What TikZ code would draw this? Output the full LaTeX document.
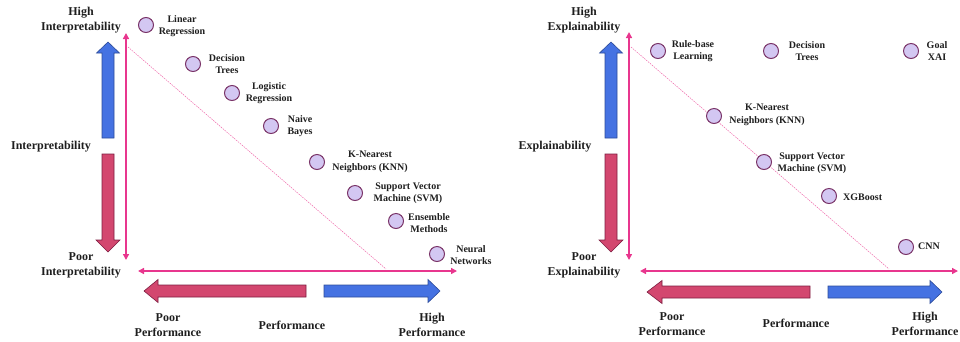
\documentclass[tikz,border=0pt]{standalone}
\usepackage{fontspec}
\setmainfont{Liberation Serif}
\usetikzlibrary{arrows.meta}

\definecolor{axispink}{HTML}{E8368E}
\definecolor{upblue}{HTML}{4572E2}
\definecolor{upblueedge}{HTML}{2D4C9A}
\definecolor{downred}{HTML}{D3476F}
\definecolor{downrededge}{HTML}{7C1D40}
\definecolor{dotfill}{HTML}{D3C7F2}
\definecolor{dotedge}{HTML}{7A3468}
\definecolor{ink}{HTML}{1E1E1E}

\tikzset{
  axis/.style={draw=axispink, line width=1.4pt,
    {Triangle[length=6pt,width=6pt]}-{Triangle[length=6pt,width=6pt]}},
  guide/.style={draw=axispink!75, line width=0.5pt, dash pattern=on 1.5pt off 1pt},
  goodway/.style={fill=upblue, draw=upblueedge, line width=0.6pt},
  badway/.style={fill=downred, draw=downrededge, line width=0.6pt},
  model/.style={circle, draw=dotedge, fill=dotfill, line width=1pt,
    minimum size=15pt, inner sep=0pt},
  tag/.style={font=\bfseries\fontsize{10}{12.5}\selectfont, align=center,
    inner sep=0pt, text=ink},
  axlabel/.style={font=\bfseries\fontsize{12}{15}\selectfont, align=center,
    inner sep=0pt, text=ink}
}

\begin{document}
\begin{tikzpicture}[x=1pt, y=-1pt]
\useasboundingbox (0,0) rectangle (960,341);

% ---------------- Interpretability vs. performance ----------------
\coordinate (ia-top) at (126,33);
\coordinate (ia-bot) at (126,260);
\coordinate (pa-left) at (138,271);
\coordinate (pa-right) at (457,271);
\coordinate (ig-start) at (128,47);
\coordinate (ig-end) at (386,269);

\draw[guide] (ig-start) -- (ig-end);
\draw[axis] (ia-bot) -- (ia-top);
\draw[axis] (pa-left) -- (pa-right);

% block arrows
\draw[goodway] (102,138) -- (102,53) -- (96.5,53) -- (108,42) -- (119.5,53) -- (114,53) -- (114,138) -- cycle;
\draw[badway] (102,154) -- (114,154) -- (114,240) -- (120,240) -- (108,252) -- (96,240) -- (102,240) -- cycle;
\draw[badway] (306,285) -- (158,285) -- (158,279.5) -- (144,291) -- (158,302.5) -- (158,297) -- (306,297) -- cycle;
\draw[goodway] (324,285) -- (428,285) -- (428,279.5) -- (440,291) -- (428,302.5) -- (428,297) -- (324,297) -- cycle;

\node[axlabel] (i-high) at (81,20) {High\\Interpretability};
\node[axlabel] (i-mid) at (51,147) {Interpretability};
\node[axlabel] (i-poor) at (81,265) {Poor\\Interpretability};
\node[axlabel] (p-poor) at (168,325) {Poor\\Performance};
\node[axlabel] (p-mid) at (292,325) {Performance};
\node[axlabel] (p-high) at (432,325) {High\\Performance};

\node[model] (lr) at (146,25) {};
\node[tag] (lr-t) at (182,26) {Linear\\Regression};
\node[model] (dt) at (193,64) {};
\node[tag] (dt-t) at (227,64) {Decision\\Trees};
\node[model] (lg) at (232,93) {};
\node[tag] (lg-t) at (269,93) {Logistic\\Regression};
\node[model] (nb) at (271,126) {};
\node[tag] (nb-t) at (300,126) {Naive\\Bayes};
\node[model] (knn) at (317,162) {};
\node[tag] (knn-t) at (370,162) {K-Nearest\\Neighbors (KNN)};
\node[model] (svm) at (355,193) {};
\node[tag] (svm-t) at (408,193) {Support Vector\\Machine (SVM)};
\node[model] (ens) at (396,221) {};
\node[tag] (ens-t) at (429,223) {Ensemble\\Methods};
\node[model] (nn) at (437,254) {};
\node[tag] (nn-t) at (471,255) {Neural\\Networks};

% ---------------- Explainability vs. performance ----------------
\coordinate (ea-top) at (629,32);
\coordinate (ea-bot) at (629,260);
\coordinate (qa-left) at (640,271);
\coordinate (qa-right) at (958,271);
\coordinate (eg-start) at (631,47);
\coordinate (eg-end) at (889,269);

\draw[guide] (eg-start) -- (eg-end);
\draw[axis] (ea-bot) -- (ea-top);
\draw[axis] (qa-left) -- (qa-right);

\draw[goodway] (605,138) -- (605,53) -- (599.5,53) -- (611,42) -- (622.5,53) -- (617,53) -- (617,138) -- cycle;
\draw[badway] (605,154) -- (617,154) -- (617,240) -- (623,240) -- (611,252) -- (599,240) -- (605,240) -- cycle;
\draw[badway] (810,286) -- (662,286) -- (662,280.5) -- (647,292) -- (662,303.5) -- (662,298) -- (810,298) -- cycle;
\draw[goodway] (828,286) -- (930,286) -- (930,280.5) -- (942,292) -- (930,303.5) -- (930,298) -- (828,298) -- cycle;

\node[axlabel] (e-high) at (584,20) {High\\Explainability};
\node[axlabel] (e-mid) at (555,147) {Explainability};
\node[axlabel] (e-poor) at (584,265) {Poor\\Explainability};
\node[axlabel] (q-poor) at (672,324) {Poor\\Performance};
\node[axlabel] (q-mid) at (796,323) {Performance};
\node[axlabel] (q-high) at (925,324) {High\\Performance};

\node[model] (rb) at (658,51) {};
\node[tag] (rb-t) at (693,51) {Rule-base\\Learning};
\node[model] (dt2) at (771,51) {};
\node[tag] (dt2-t) at (807,51) {Decision\\Trees};
\node[model] (goal) at (911,51) {};
\node[tag] (goal-t) at (937,51) {Goal\\XAI};
\node[model] (knn2) at (714,116) {};
\node[tag] (knn2-t) at (767,115) {K-Nearest\\Neighbors (KNN)};
\node[model] (svm2) at (764,162) {};
\node[tag] (svm2-t) at (812,163) {Support Vector\\Machine (SVM)};
\node[model] (xgb) at (829,196) {};
\node[tag, anchor=west] (xgb-t) at (843,197) {XGBoost};
\node[model] (cnn) at (906,247) {};
\node[tag, anchor=west] (cnn-t) at (918,246) {CNN};
\end{tikzpicture}
\end{document}
